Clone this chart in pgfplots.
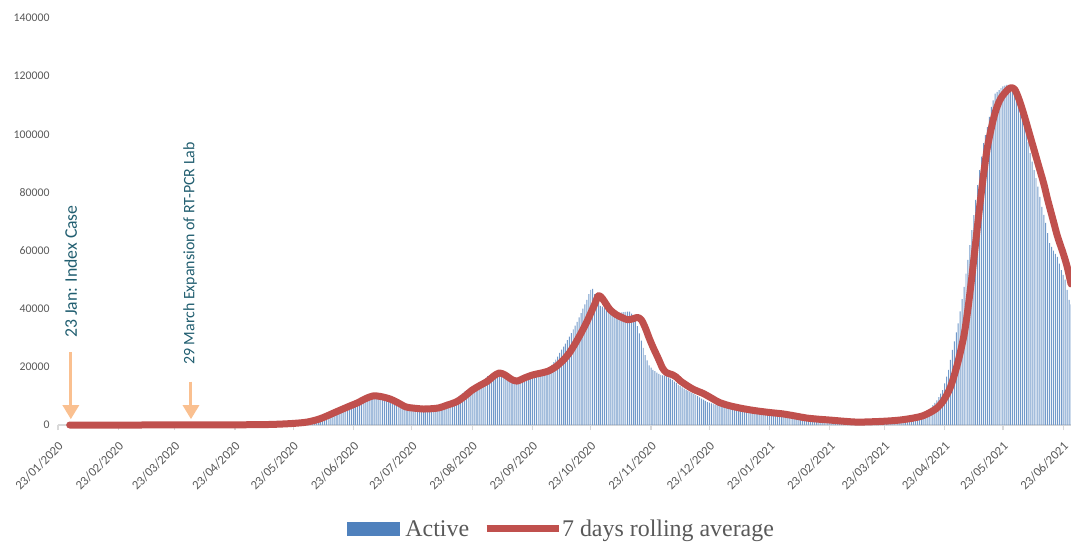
\documentclass[border=0pt]{standalone}
\usepackage{pgfplots}
\pgfplotsset{compat=1.18}
\usetikzlibrary{arrows.meta}
\usepackage{fontspec}
\setmainfont{Carlito}
\newfontfamily\legendfont{Liberation Serif}
\definecolor{barblue}{HTML}{4F81BD}
\definecolor{linered}{HTML}{C0504D}
\definecolor{ticktext}{HTML}{595959}
\definecolor{axisgray}{HTML}{D9D9D9}
\definecolor{annot}{HTML}{215E70}
\definecolor{arrowc}{HTML}{FAC090}
\begin{document}
\begin{tikzpicture}
\useasboundingbox (-58bp,-117bp) rectangle (1013bp,425bp);
\begin{axis}[
  scale only axis, width=1013bp, height=407bp,
  xmin=0, xmax=521, ymin=0, ymax=140000,
  clip=false,
  axis x line*=bottom, axis y line*=left,
  x axis line style={axisgray, line width=1.5bp, -},
  y axis line style={draw=none},
  tick align=outside, major tick length=5bp,
  xtick style={axisgray, line width=1.2bp},
  ytick style={draw=none},
  xtick={0,31,60,91,121,152,182,213,244,274,305,335,366,397,425,456,486,517},
  xticklabels={23/01/2020,23/02/2020,23/03/2020,23/04/2020,23/05/2020,23/06/2020,23/07/2020,23/08/2020,23/09/2020,23/10/2020,23/11/2020,23/12/2020,23/01/2021,23/02/2021,23/03/2021,23/04/2021,23/05/2021,23/06/2021},
  ytick={0,20000,40000,60000,80000,100000,120000,140000},
  scaled y ticks=false,
  /pgf/number format/assume math mode=true,
  yticklabel style={/pgf/number format/fixed, /pgf/number format/1000 sep={}, font=\fontsize{11.8}{12}\selectfont, text=ticktext},
  xticklabel style={xshift=3bp, yshift=-14bp, rotate=45, anchor=east, inner sep=0pt, font=\fontsize{12.8}{13}\selectfont, text=ticktext},
  legend style={at={(0.496,-0.2555)}, anchor=center, draw=none, fill=none, legend columns=2, font=\legendfont\fontsize{24}{26}\selectfont, text=ticktext, /tikz/every even column/.append style={column sep=14bp}, nodes={inner sep=0pt}},
]
\addlegendimage{legend image code/.code={\fill[barblue] (0bp,-6.5bp) rectangle (52bp,6.5bp); \path (58bp,0bp);}}
\addlegendentry{Active}
\addlegendimage{legend image code/.code={\draw[linered, line width=7bp] (0bp,0bp) -- (72bp,0bp); \path (73bp,0bp);}}
\addlegendentry{7 days rolling average}

\addplot[ybar, bar width=0.5, bar shift=0pt, fill=barblue!80!white, draw=none, forget plot] coordinates {
(6,1)(7,1)(8,1)(9,1)(10,1)(11,1)(12,1)(13,1)(14,1)(15,1)(16,1)(17,1)(18,1)(19,1)(20,1)(21,1)(22,1)(23,1)(24,1)(25,1)(26,1)(27,1)(28,1)(29,1)(30,1)(31,1)(32,1)(33,1)(34,1)(35,1)(36,1)(37,1)(38,1)(39,1)(40,1)(41,1)(42,1)(43,1)(44,1)(45,1)(46,1)(47,1)(48,1)(49,1)(50,1)(51,1)(52,1)(53,1)(54,1)(55,1)(56,1)(57,1)(58,1)(59,1)
(60,1)(61,2)(62,2)(63,2)(64,3)(65,4)(66,4)(67,5)(68,5)(69,7)(70,7)(71,8)(72,8)(73,9)(74,13)(75,14)(76,15)(77,28)(78,29)(79,30)(80,33)(81,38)(82,40)(83,42)(84,45)(85,47)(86,48)(87,48)(88,50)(89,52)(90,55)(91,57)(92,70)(93,80)(94,90)(95,95)(96,100)(97,110)(98,120)(99,130)(100,140)
(101,160)(102,180)(103,200)(104,230)(105,260)(106,300)(107,340)(108,380)(109,420)(110,460)
(111,500)(112,530)(113,560)(114,600)(115,640)(116,680)(117,720)(118,760)(119,800)(120,840)(121,880)(122,920)(123,950)(124,980)(125,1000)
(126,1150)(127,1300)(128,1480)(129,1650)(130,1820)(131,2000)(132,2200)
(133,2450)(134,2700)(135,2980)(136,3250)(137,3550)(138,3850)(139,4200)(140,4500)
(141,4800)(142,5100)(143,5400)(144,5700)(145,5950)(146,6250)(147,6500)
(148,6780)(149,7050)(150,7350)(151,7600)
(152,7950)(153,8300)(154,8650)(155,9000)(156,9250)(157,9500)(158,9800)(159,10000)
(160,10100)(161,10050)(162,9950)(163,9800)(164,9650)(165,9450)(166,9300)(167,9100)(168,8900)
(169,8550)(170,8250)(171,7900)(172,7600)(173,7250)(174,6900)(175,6550)(176,6200)
(177,6100)(178,6000)(179,5900)(180,5800)(181,5750)(182,5650)(183,5600)(184,5550)(185,5500)(186,5500)(187,5550)(188,5550)(189,5600)
(190,5650)(191,5700)(192,5800)(193,5900)(194,6100)(195,6300)(196,6550)(197,6800)(198,7050)(199,7300)(200,7550)(201,7800)(202,8000)
(203,8450)(204,8900)(205,9350)(206,9800)(207,10350)(208,10900)(209,11450)(210,12000)(211,12400)(212,12800)(213,13200)(214,13600)
(215,14000)(216,14400)(217,14750)(218,15100)(219,15650)(220,16250)(221,16800)(222,17150)(223,17500)(224,17900)(225,17650)(226,17450)(227,17200)
(228,16750)(229,16250)(230,15800)(231,15550)(232,15300)(233,15100)(234,15350)(235,15650)(236,15900)(237,16200)(238,16450)(239,16700)(240,16950)(241,17200)
(242,17350)(243,17500)(244,17650)(245,17800)(246,17950)(247,18150)(248,18300)(249,18500)(250,18850)(251,19250)(252,19600)(253,20000)
(254,20700)(255,21600)(256,22500)(257,23500)(258,24800)(259,25900)(260,27000)(261,28000)(262,29200)(263,30400)(264,31600)(265,32900)(266,34200)(267,35500)(268,37000)(269,38500)
(270,40000)(271,41500)(272,43000)(273,45000)(274,46500)(275,46800)(276,45000)(277,43000)(278,42000)(279,41000)(280,40700)(281,40300)(282,40000)
(283,39700)(284,39300)(285,39000)(286,38800)(287,38600)(288,38500)(289,38600)(290,38700)(291,38800)(292,38900)(293,39000)(294,39000)(295,38300)(296,37500)
(297,35800)(298,34000)(299,31500)(300,29000)(301,26500)(302,24000)(303,22200)(304,20500)(305,19700)(306,19000)(307,18500)(308,18000)(309,17600)(310,17200)(311,17100)(312,16950)(313,16800)
(314,16400)(315,15950)(316,15500)(317,14950)(318,14400)(319,13800)(320,13400)(321,12950)(322,12500)(323,12100)(324,11750)(325,11400)(326,11000)(327,10600)(328,10250)(329,9900)(330,9500)
(331,9100)(332,8700)(333,8300)(334,7900)(335,7700)(336,7450)(337,7250)(338,7000)(339,6800)(340,6600)(341,6400)(342,6200)(343,6050)(344,5900)(345,5750)(346,5600)(347,5500)(348,5400)(349,5250)(350,5150)(351,5000)
(352,4950)(353,4900)(354,4800)(355,4750)(356,4700)(357,4650)(358,4600)(359,4500)(360,4450)(361,4400)(362,4300)(363,4250)(364,4200)(365,4100)(366,4050)(367,3950)(368,3900)(369,3800)(370,3700)(371,3600)(372,3500)(373,3400)(374,3300)
(375,3200)(376,3100)(377,2950)(378,2850)(379,2700)(380,2600)(381,2500)(382,2400)(383,2300)(384,2200)(385,2100)(386,2050)(387,2000)(388,1950)(389,1850)(390,1800)(391,1750)(392,1700)(393,1650)(394,1550)(395,1500)(396,1450)(397,1400)(398,1350)(399,1250)(400,1200)
(401,1180)(402,1150)(403,1120)(404,1100)(405,1070)(406,1050)(407,1020)(408,1000)(409,1000)(410,990)(411,1000)(412,1010)(413,1020)(414,1030)(415,1050)(416,1070)(417,1090)(418,1110)(419,1130)(420,1150)(421,1180)(422,1200)(423,1250)(424,1300)(425,1350)(426,1400)(427,1450)(428,1500)
(429,1570)(430,1630)(431,1700)(432,1770)(433,1830)(434,1900)(435,2000)(436,2100)(437,2250)(438,2400)(439,2600)(440,2800)(441,3000)(442,3200)(443,3500)(444,3800)(445,4150)(446,4500)(447,5000)(448,5500)(449,6000)(450,6800)(451,7600)(452,8500)
(453,9600)(454,10800)(455,12000)(456,14300)(457,16600)(458,19000)(459,22400)(460,25800)(461,28800)(462,31900)(463,35000)(464,39100)(465,43300)(466,47500)(467,52100)(468,56800)(469,61900)(470,67000)(471,72200)(472,77400)(473,82500)(474,87700)(475,92300)(476,97000)
(477,99700)(478,102500)(479,106000)(480,109400)(481,111700)(482,114000)(483,114600)(484,115200)(485,115900)(486,116500)(487,116700)(488,117000)(489,116800)(490,116500)(491,115300)(492,114000)(493,111500)(494,109000)(495,107000)(496,105000)(497,103000)(498,101000)(499,97300)(500,93500)
(501,90600)(502,87700)(503,84900)(504,82000)(505,78500)(506,75000)(507,72300)(508,69500)(509,66000)(510,62600)(511,61300)(512,60000)(513,58900)(514,57800)(515,55500)(516,53300)(517,51600)(518,50000)(519,46500)(520,43000)(521,41500)
};

\addplot[linered, line width=7bp, smooth, line cap=round, line join=round, forget plot] coordinates {
(6,0)(40,0)(60,10)(80,40)(100,100)(110,200)(120,500)(128,1000)(135,2200)(143,4500)(150,6500)(154,7600)(158,9000)(162,10000)(166,9800)(171,8900)(175,7600)(179,6200)(183,5800)(188,5500)(192,5600)(196,5900)(200,6800)(205,8000)(209,9800)(213,12000)(217,13600)(221,15100)(224,16800)(227,17900)(230,17200)(233,15800)(236,15100)(240,16200)(244,17200)(248,17800)(252,18500)(256,20000)(260,22400)(263,24800)(266,28000)(269,31600)(272,35500)(274,38500)(276,41500)(278,44500)(280,43500)(282,41500)(284,39600)(287,38000)(290,37000)(293,36200)(296,36600)(298,37000)(300,36200)(302,33500)(304,30000)(306,26800)(309,22500)(311,19500)(313,18000)(316,17300)(318,16500)(320,15200)(323,13800)(327,12200)(332,10800)(336,9300)(340,7800)(345,6700)(351,5800)(356,5200)(360,4800)(366,4300)(373,3800)(380,3000)(385,2400)(391,2000)(397,1700)(404,1300)(411,1000)(418,1100)(425,1300)(433,1700)(440,2400)(445,3200)(449,4500)(452,5800)(455,8000)(458,11500)(460,15000)(463,22000)(466,31000)(468,40000)(470,51000)(472,63000)(474,75000)(476,86000)(478,95500)(481,105000)(483,109500)(485,112500)(488,115000)(490,116000)(492,115500)(494,112500)(496,108500)(498,104000)(501,97000)(504,90000)(507,83000)(509,77500)(512,70000)(514,65000)(517,59000)(519,54500)(521,48500)
};

\draw[arrowc, line width=3bp, -{Triangle[width=16bp, length=14bp]}] (axis cs:6.6,25100) -- (axis cs:6.6,2000);
\draw[arrowc, line width=3bp, -{Triangle[width=16bp, length=14bp]}] (axis cs:68.4,14900) -- (axis cs:68.4,2000);
\node[rotate=90, anchor=west, inner sep=0pt, text=annot, font=\fontsize{17.8}{18}\selectfont] at (axis cs:6.6,29900) {23 Jan: Index Case};
\node[rotate=90, anchor=west, inner sep=0pt, text=annot, font=\fontsize{16}{17}\selectfont] at (axis cs:67.9,20600) {29 March Expansion of RT-PCR Lab};
\end{axis}
\end{tikzpicture}
\end{document}
